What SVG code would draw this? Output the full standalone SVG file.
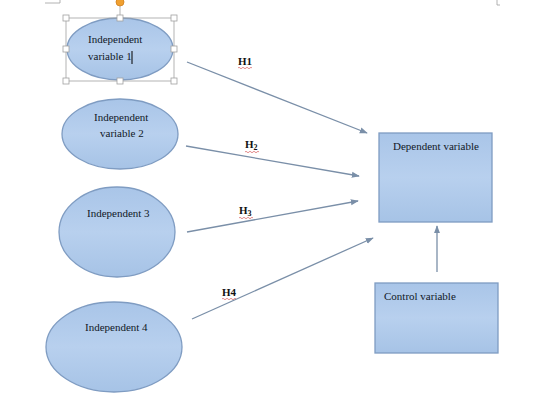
<svg xmlns="http://www.w3.org/2000/svg" width="540" height="402" viewBox="0 0 540 402">
<defs>
<linearGradient id="g" x1="0" y1="0" x2="0" y2="1">
<stop offset="0" stop-color="#a9c5e8"/>
<stop offset="0.5" stop-color="#b8d0ee"/>
<stop offset="1" stop-color="#a6c3e6"/>
</linearGradient>
<marker id="ah" viewBox="0 0 10 10" refX="9" refY="5" markerWidth="8" markerHeight="8" orient="auto" markerUnits="userSpaceOnUse">
<path d="M0,1.2 L10,5 L0,8.8 z" fill="#7a8fa8"/>
</marker>
<style>
.n{fill:url(#g);stroke:#7f9cc2;stroke-width:1.3}
.t{font-family:"Liberation Serif",serif;font-size:11px;fill:#111827}
.h{font-family:"Liberation Serif",serif;font-size:11px;font-weight:bold;fill:#111}
.c{stroke:#7a8fa8;stroke-width:1.3;fill:none;marker-end:url(#ah)}
.w{stroke:#d04040;stroke-width:0.6;fill:none}
.s{fill:none;stroke:#a0a0a0;stroke-width:0.8}
.hd{fill:#fff;stroke:#a0a0a0;stroke-width:0.8}
</style>
</defs>
<g id="page-marks">
<path d="M45,3 H60 V0" class="s"/>
<path d="M497,0 V5 H500" class="s"/>
</g>
<g id="connectors">
<line class="c" x1="187" y1="62" x2="367" y2="133"/>
<line class="c" x1="186" y1="146" x2="359" y2="176"/>
<line class="c" x1="187" y1="232" x2="358" y2="201"/>
<line class="c" x1="192" y1="319" x2="373" y2="238"/>
<line class="c" x1="437" y1="272" x2="437" y2="226"/>
</g>
<g id="labels">
<text class="h" x="238" y="65">H1</text>
<path class="w" d="M238,68 q1,-1.5 2,0 t2,0 t2,0 t2,0 t2,0 t2,0 t2,0"/>
<text class="h" x="245" y="148">H<tspan font-size="8" dy="2">2</tspan></text>
<path class="w" d="M245,152 q1,-1.5 2,0 t2,0 t2,0 t2,0 t2,0 t2,0 t2,0"/>
<text class="h" x="239" y="214">H<tspan font-size="8" dy="2">3</tspan></text>
<path class="w" d="M239,218 q1,-1.5 2,0 t2,0 t2,0 t2,0 t2,0 t2,0 t2,0"/>
<text class="h" x="222" y="296">H4</text>
<path class="w" d="M222,299 q1,-1.5 2,0 t2,0 t2,0 t2,0 t2,0 t2,0 t2,0"/>
</g>
<g id="iv1">
<ellipse class="n" cx="120" cy="49" rx="53" ry="31"/>
<text class="t" x="88" y="43">Independent</text>
<text class="t" x="88" y="60">variable 1</text>
<line x1="132" y1="51" x2="132" y2="64" stroke="#000" stroke-width="1"/>
</g>
<g id="selection">
<rect x="66" y="18" width="108" height="63" class="s"/>
<line x1="120" y1="4" x2="120" y2="18" class="s"/>
<circle cx="120" cy="2" r="4" fill="#f0a030" stroke="#d08020" stroke-width="0.8"/>
<rect class="hd" x="63" y="15" width="6" height="6"/>
<rect class="hd" x="117" y="15" width="6" height="6"/>
<rect class="hd" x="171" y="15" width="6" height="6"/>
<rect class="hd" x="63" y="46" width="6" height="6"/>
<rect class="hd" x="171" y="46" width="6" height="6"/>
<rect class="hd" x="63" y="78" width="6" height="6"/>
<rect class="hd" x="117" y="78" width="6" height="6"/>
<rect class="hd" x="171" y="78" width="6" height="6"/>
</g>
<g id="iv2">
<ellipse class="n" cx="120" cy="134" rx="58" ry="35"/>
<text class="t" x="94" y="121">Independent</text>
<text class="t" x="100" y="137">variable 2</text>
</g>
<g id="iv3">
<ellipse class="n" cx="117" cy="232" rx="58" ry="45"/>
<text class="t" x="87" y="217">Independent 3</text>
</g>
<g id="iv4">
<ellipse class="n" cx="114" cy="347" rx="68" ry="45"/>
<text class="t" x="85" y="331">Independent 4</text>
</g>
<g id="dv">
<rect class="n" x="379" y="133" width="113" height="89"/>
<text class="t" x="393" y="150">Dependent variable</text>
</g>
<g id="cv">
<rect class="n" x="375" y="283" width="123" height="70"/>
<text class="t" x="384" y="300">Control variable</text>
</g>
</svg>
